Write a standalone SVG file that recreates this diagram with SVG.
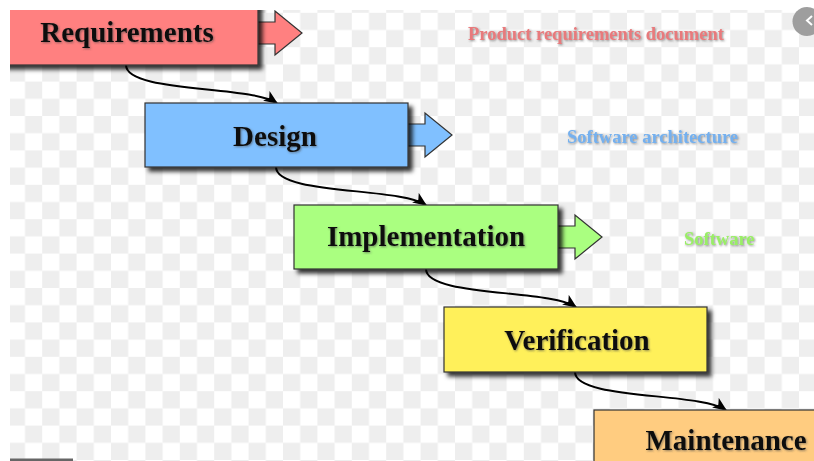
<svg xmlns="http://www.w3.org/2000/svg" width="814" height="461" viewBox="0 0 814 461">
<style>
.box{stroke:#333;stroke-width:1.2}
.blk{stroke:#333;stroke-width:1.2}
.t{font-family:"Liberation Serif","Times New Roman",serif;font-weight:bold;font-size:29px;fill:#111;text-anchor:middle}
.lbl{font-family:"Liberation Serif","Times New Roman",serif;font-weight:bold;font-size:18.5px}
.con{fill:none;stroke:#000;stroke-width:2}
</style>
<defs>
<pattern id="chk" patternUnits="userSpaceOnUse" x="7.8" y="12.8" width="34.4" height="34.4">
<rect width="34.4" height="34.4" fill="#ffffff"/>
<rect x="17.2" width="17.2" height="17.2" fill="#eeeeee"/>
<rect y="17.2" width="17.2" height="17.2" fill="#eeeeee"/>
</pattern>
<clipPath id="img"><rect x="10" y="10" width="804" height="451"/></clipPath>
<filter id="sh" x="-10%" y="-20%" width="130%" height="150%">
<feDropShadow dx="4" dy="4" stdDeviation="2.2" flood-color="#000" flood-opacity="0.8"/>
</filter>
<filter id="tsh" x="-5%" y="-20%" width="110%" height="150%">
<feDropShadow dx="1" dy="1" stdDeviation="0.8" flood-color="#444" flood-opacity="0.6"/>
</filter>
<marker id="ah" viewBox="0 0 12 10" refX="11" refY="5" markerWidth="14" markerHeight="12" markerUnits="userSpaceOnUse" orient="auto">
<path d="M0,0 L12,5 L0,10 L3,5 z" fill="#000"/>
</marker>
</defs>
<rect width="814" height="461" fill="#ffffff"/>
<g clip-path="url(#img)">
<rect x="10" y="10" width="804" height="451" fill="url(#chk)"/>

<g id="connectors">
<path class="con" d="M126,65 C126,93 250,85 277,103" marker-end="url(#ah)"/>
<path class="con" d="M276,167 C276,195 400,187 426,205" marker-end="url(#ah)"/>
<path class="con" d="M426,269 C426,297 550,289 576,307" marker-end="url(#ah)"/>
<path class="con" d="M575,372 C575,400 700,392 726,410" marker-end="url(#ah)"/>
</g>

<g id="requirements">
<path class="blk" fill="#ff8080" d="M253,22 H275 V11 L302,33 L275,55 V44 H253 Z"/>
<rect class="box" x="-5" y="1" width="263" height="64" fill="#ff8080" filter="url(#sh)"/>
<text class="t" x="127" y="42" filter="url(#tsh)">Requirements</text>
</g>

<g id="design">
<path class="blk" fill="#80c0ff" d="M403,124 H425 V113 L452,135 L425,157 V146 H403 Z"/>
<rect class="box" x="145" y="103" width="263" height="64" fill="#80c0ff" filter="url(#sh)"/>
<text class="t" x="275" y="146" filter="url(#tsh)">Design</text>
</g>

<g id="implementation">
<path class="blk" fill="#aaff80" d="M553,226 H575 V215 L602,237 L575,259 V248 H553 Z"/>
<rect class="box" x="294" y="205" width="264" height="64" fill="#aaff80" filter="url(#sh)"/>
<text class="t" x="426" y="246" filter="url(#tsh)">Implementation</text>
</g>

<g id="verification">
<rect class="box" x="444" y="307" width="263" height="65" fill="#fff05a" filter="url(#sh)"/>
<text class="t" x="577" y="350" filter="url(#tsh)">Verification</text>
</g>

<g id="maintenance">
<rect class="box" x="594" y="410" width="263" height="64" fill="#ffcc80" filter="url(#sh)"/>
<text class="t" x="726" y="450" filter="url(#tsh)">Maintenance</text>
</g>

<g id="labels">
<text class="lbl" x="468" y="40" fill="#e87a7c" filter="url(#tsh)">Product requirements document</text>
<text class="lbl" x="567" y="143" fill="#74b0ee" filter="url(#tsh)">Software architecture</text>
<text class="lbl" x="684" y="245" fill="#99ee66" filter="url(#tsh)">Software</text>
</g>
<rect x="10" y="458.5" width="63" height="2.5" fill="#666"/>
</g>
<circle cx="807" cy="21.5" r="14.5" fill="#9e9e9e"/>
<path d="M812,16 L807,20.5 L812,25" fill="none" stroke="#fff" stroke-width="2"/>
</svg>
